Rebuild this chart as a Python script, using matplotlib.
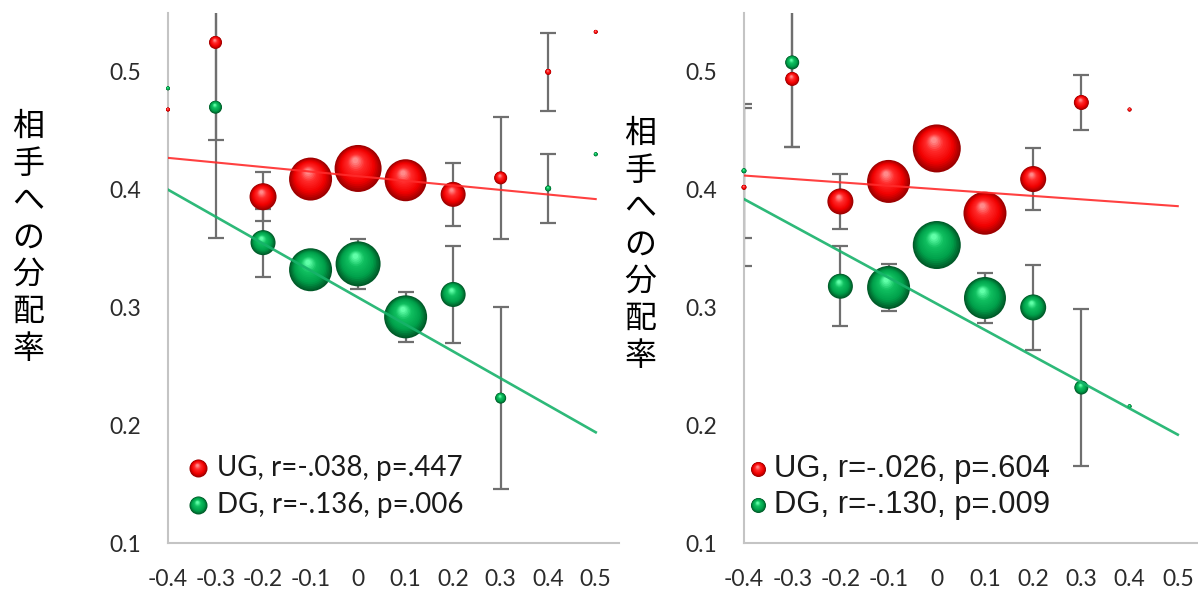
import numpy as np
import matplotlib
matplotlib.use("Agg")
import matplotlib.pyplot as plt
from matplotlib.markers import MarkerStyle
from matplotlib.path import Path
from matplotlib.transforms import Affine2D
from matplotlib.colors import to_rgb

# ---- data ----
ylabel = "相手への分配率"
yticks = [0.1, 0.2, 0.3, 0.4, 0.5]
xticks = [-0.4, -0.3, -0.2, -0.1, 0.0, 0.1, 0.2, 0.3, 0.4, 0.5]
xtick_labels = ["-0.4", "-0.3", "-0.2", "-0.1", "0", "0.1", "0.2", "0.3", "0.4", "0.5"]

# left panel
left_x = [-0.4, -0.3, -0.2, -0.1, 0.0, 0.1, 0.2, 0.3, 0.4, 0.5]
left_ug = [0.468, 0.525, 0.394, 0.409, 0.418, 0.408, 0.396, 0.410, 0.500, 0.534]
left_ug_err = [np.nan, 0.083, 0.021, 0.015, 0.015, 0.015, 0.027, 0.052, 0.033, np.nan]
left_ug_size = [4, 13, 27, 43, 47, 42, 25, 13, 6, 4]
left_dg = [0.486, 0.470, 0.355, 0.332, 0.337, 0.292, 0.311, 0.223, 0.401, 0.430]
left_dg_err = [np.nan, 0.111, 0.029, 0.015, 0.021, 0.021, 0.041, 0.077, 0.029, np.nan]
left_dg_size = [4, 13, 25, 43, 45, 43, 25, 11, 6, 4]
left_fit_x = [-0.4, 0.5]
left_ug_fit = [0.427, 0.392]
left_dg_fit = [0.400, 0.194]
left_labels = ["UG, r=-.038, p=.447", "DG, r=-.136, p=.006"]

# right panel
right_x = [-0.4, -0.3, -0.2, -0.1, 0.0, 0.1, 0.2, 0.3, 0.4]
right_ug = [0.402, 0.494, 0.390, 0.407, 0.435, 0.380, 0.409, 0.474, 0.468]
right_ug_err = [0.067, 0.058, 0.023, 0.015, 0.015, 0.015, 0.026, 0.023, np.nan]
right_ug_size = [5, 14, 26, 43, 48, 43, 26, 15, 4]
right_dg = [0.416, 0.508, 0.318, 0.317, 0.353, 0.308, 0.300, 0.232, 0.216]
right_dg_err = [0.057, 0.072, 0.034, 0.020, 0.015, 0.021, 0.036, 0.067, np.nan]
right_dg_size = [5, 14, 25, 43, 48, 42, 26, 14, 4]
right_fit_x = [-0.4, 0.5]
right_ug_fit = [0.412, 0.386]
right_dg_fit = [0.392, 0.192]
right_labels = ["UG, r=-.026, p=.604", "DG, r=-.130, p=.009"]

RED = ["#9c0000", "#f20000", "#ff2a2a", "#ff8a8a"]
GREEN = ["#005a28", "#00a04a", "#10c060", "#60ffa8"]
RED_LINE = "#ff2b2b"
GREEN_LINE = "#17b26a"
GRAY = "#6f6f6f"


def shade(palette, t):
    stops = [0.0, 0.3, 0.7, 1.0]
    cols = np.array([to_rgb(c) for c in palette])
    return tuple(np.interp(t, stops, cols[:, i]) for i in range(3))


def spheres(ax, x, y, diam_px, palette, transform=None, z=3):
    """Excel-style 3D bubbles: stacked circles shrinking toward a highlight."""
    s = (0.72 * np.asarray(diam_px, dtype=float)) ** 2
    n = 16
    for k in range(n):
        t = k / (n - 1)
        f = 1 - 0.88 * t
        tr = Affine2D().scale(f).translate(-0.06 * t, 0.17 * t)
        m = MarkerStyle(Path.unit_circle(), transform=tr)
        kw = {} if transform is None else {"transform": transform}
        ax.scatter(x, y, s=s, marker=m, color=shade(palette, t),
                   linewidths=0, zorder=z + k * 0.001, clip_on=False, **kw)


def panel(ax, x, ug, ug_err, ug_size, dg, dg_err, dg_size,
          fit_x, ug_fit, dg_fit, labels, xmax, leg_font, leg_size, leg_pos):
    x = np.asarray(x)
    for yv, err in ((ug, ug_err), (dg, dg_err)):
        yv = np.asarray(yv)
        err = np.asarray(err)
        ok = np.isfinite(err)
        ax.errorbar(x[ok], yv[ok], yerr=err[ok], fmt="none", ecolor=GRAY,
                    elinewidth=1.6, capsize=6, capthick=1.6, zorder=2)
    spheres(ax, x, ug, ug_size, RED)
    spheres(ax, x, dg, dg_size, GREEN)
    ax.plot(fit_x, ug_fit, color=RED_LINE, lw=1.5, zorder=5, alpha=0.9)
    ax.plot(fit_x, dg_fit, color=GREEN_LINE, lw=1.9, zorder=5, alpha=0.9)

    ax.set_xlim(-0.4, xmax)
    ax.set_ylim(0.1, 0.55)
    ax.set_xticks(xticks)
    ax.set_xticklabels(xtick_labels)
    ax.set_yticks(yticks)
    ax.set_yticklabels([f"{v:.1f}" for v in yticks])
    ax.tick_params(length=0, labelsize=16.5, labelcolor="#2b2b2b", pad=19)
    for lab in ax.get_xticklabels() + ax.get_yticklabels():
        lab.set_fontfamily("Lato")
    for sp in ("top", "right"):
        ax.spines[sp].set_visible(False)
    for sp in ("left", "bottom"):
        ax.spines[sp].set_color("#c4c4c4")
        ax.spines[sp].set_linewidth(1.5)

    # legend drawn by hand in axes coordinates
    mx, tx, y1, y2 = leg_pos
    spheres(ax, [mx], [y1], [leg_size], RED, transform=ax.transAxes, z=6)
    spheres(ax, [mx], [y2], [leg_size], GREEN, transform=ax.transAxes, z=6)
    for yy, lab in zip((y1, y2), labels):
        ax.text(tx, yy, lab, transform=ax.transAxes, fontsize=leg_font[1],
                family=leg_font[0], color="#1a1a1a", va="center", ha="left")


fig = plt.figure(figsize=(11.98, 5.91), dpi=100)
fig.patch.set_facecolor("white")

ax1 = fig.add_axes([168 / 1198, 48 / 591, 451 / 1198, 530 / 591])
ax2 = fig.add_axes([744 / 1198, 48 / 591, 454 / 1198, 530 / 591])

panel(ax1, left_x, left_ug, left_ug_err, left_ug_size, left_dg, left_dg_err,
      left_dg_size, left_fit_x, left_ug_fit, left_dg_fit, left_labels,
      0.549, ("Lato", 20), 18, (0.0665, 0.108, 0.142, 0.072))
panel(ax2, right_x, right_ug, right_ug_err, right_ug_size, right_dg, right_dg_err,
      right_dg_size, right_fit_x, right_ug_fit, right_dg_fit, right_labels,
      0.542, ("Liberation Sans", 22.3), 15, (0.031, 0.066, 0.140, 0.072))

# vertical y-axis titles, one character per line
for cx, top in ((28, 127), (640, 134)):
    for i, ch in enumerate(ylabel):
        fig.text(cx / 1198, 1 - (top + 37 * i) / 591, ch, fontsize=23,
                 family="Noto Sans CJK JP", ha="center", va="center", color="black")

fig.savefig("out.png", dpi=100, facecolor="white")
